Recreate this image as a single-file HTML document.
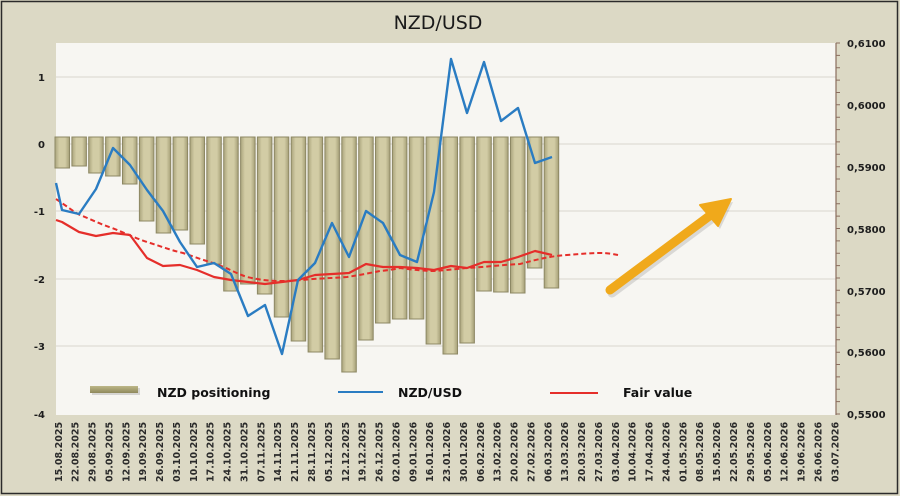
<!DOCTYPE html>
<html><head><meta charset="utf-8"><style>
html,body{margin:0;padding:0;background:#dcd9c5;}
svg{display:block;}
.ax{font-family:"DejaVu Sans","Liberation Sans",sans-serif;font-weight:bold;font-size:10px;fill:#1e1e1e;}
.dt{font-family:"DejaVu Sans","Liberation Sans",sans-serif;font-weight:bold;font-size:9.5px;fill:#2a2a2a;}
.lg{font-family:"DejaVu Sans","Liberation Sans",sans-serif;font-weight:bold;font-size:12.5px;fill:#111;}
</style></head><body>
<svg width="900" height="496" viewBox="0 0 900 496" xmlns="http://www.w3.org/2000/svg">
<defs>
<linearGradient id="barg" x1="0" y1="0" x2="1" y2="0">
<stop offset="0" stop-color="#aaa47c"/><stop offset="0.3" stop-color="#d2cca5"/><stop offset="0.7" stop-color="#d2cca5"/><stop offset="1" stop-color="#a59f77"/>
</linearGradient>
<linearGradient id="lgg" x1="0" y1="0" x2="0" y2="1">
<stop offset="0" stop-color="#bdb788"/><stop offset="1" stop-color="#8f895c"/>
</linearGradient>
</defs>
<rect x="0" y="0" width="900" height="496" fill="#dcd9c5"/>
<rect x="1.5" y="1.5" width="896" height="492" fill="none" stroke="#2b2b2b" stroke-width="1.5"/>
<text x="438" y="29" text-anchor="middle" style="font-family:'DejaVu Sans','Liberation Sans',sans-serif;font-size:19px;fill:#1a1a1a">NZD/USD</text>
<rect x="56" y="43" width="780" height="372" fill="#f7f6f2"/>
<g stroke="#dfdcd5" stroke-width="1.2">
<line x1="56" y1="77" x2="836" y2="77"/><line x1="56" y1="144" x2="836" y2="144"/><line x1="56" y1="211" x2="836" y2="211"/><line x1="56" y1="279" x2="836" y2="279"/><line x1="56" y1="346" x2="836" y2="346"/>
</g>
<g fill="url(#barg)" stroke="#8d8864" stroke-width="1">
<rect x="55.0" y="137" width="14.5" height="31"/>
<rect x="71.9" y="137" width="14.5" height="29"/>
<rect x="88.7" y="137" width="14.5" height="36"/>
<rect x="105.6" y="137" width="14.5" height="39"/>
<rect x="122.5" y="137" width="14.5" height="47"/>
<rect x="139.4" y="137" width="14.5" height="84"/>
<rect x="156.2" y="137" width="14.5" height="96"/>
<rect x="173.1" y="137" width="14.5" height="93"/>
<rect x="190.0" y="137" width="14.5" height="107"/>
<rect x="206.8" y="137" width="14.5" height="127"/>
<rect x="223.7" y="137" width="14.5" height="154"/>
<rect x="240.6" y="137" width="14.5" height="147"/>
<rect x="257.4" y="137" width="14.5" height="157"/>
<rect x="274.3" y="137" width="14.5" height="180"/>
<rect x="291.2" y="137" width="14.5" height="204"/>
<rect x="308.1" y="137" width="14.5" height="215"/>
<rect x="324.9" y="137" width="14.5" height="222"/>
<rect x="341.8" y="137" width="14.5" height="235"/>
<rect x="358.7" y="137" width="14.5" height="203"/>
<rect x="375.5" y="137" width="14.5" height="186"/>
<rect x="392.4" y="137" width="14.5" height="182"/>
<rect x="409.3" y="137" width="14.5" height="182"/>
<rect x="426.1" y="137" width="14.5" height="207"/>
<rect x="443.0" y="137" width="14.5" height="217"/>
<rect x="459.9" y="137" width="14.5" height="206"/>
<rect x="476.8" y="137" width="14.5" height="154"/>
<rect x="493.6" y="137" width="14.5" height="155"/>
<rect x="510.5" y="137" width="14.5" height="156"/>
<rect x="527.4" y="137" width="14.5" height="131"/>
<rect x="544.2" y="137" width="14.5" height="151"/>
</g>
<!-- dashed trend -->
<path d="M56,199 C68,207 74,212 80,215 C95,221 100,224 112,228 C125,233 135,238 147,242 C160,246 170,250 183,253 C195,257 203,260 213,263 C228,268 235,273 247,277 C260,280 270,281 280,281 C295,281 300,280 313,279 C328,278 335,278 347,277 C360,275 370,273 380,271 C390,270 395,269 400,268 C415,270 425,271 433,271 C450,270 455,269 467,268 C485,267 500,265 520,264 C535,260 550,256 567,255 C580,254 590,253 600,253 C608,253 613,254 618,255" fill="none" stroke="#e52e2a" stroke-width="2" stroke-dasharray="5,3"/>
<!-- fair value solid -->
<polyline points="56,220 62,222 79,232 96,236 113,233 130,235 147,258 163,266 180,265 197,270 214,277 231,280 248,282 265,284 282,282 298,280 315,275 332,274 349,273 366,264 383,267 400,267 417,268 434,270 451,266 467,268 484,262 501,262 518,257 535,251 552,255" fill="none" stroke="#e52e2a" stroke-width="2.2" stroke-linejoin="round"/>
<!-- NZD/USD -->
<polyline points="56,183 62,210 79,214 96,189 113,148 130,165 147,190 163,211 180,242 197,267 214,263 231,274 248,316 265,305 282,354 298,280 315,263 332,223 349,257 366,211 383,223 400,255 417,262 434,192 451,59 467,113 484,62 501,121 518,108 535,163 552,157" fill="none" stroke="#2a7cc2" stroke-width="2.4" stroke-linejoin="round"/>
<!-- arrow -->
<g transform="translate(2,3)" opacity="0.18">
<line x1="610" y1="290" x2="712" y2="214" stroke="#555" stroke-width="9" stroke-linecap="round"/>
<polygon points="731,199 700,205 718,226" fill="#555"/>
</g>
<line x1="610" y1="290" x2="712" y2="214" stroke="#f0a91b" stroke-width="9" stroke-linecap="round"/>
<polygon points="731,199 700,205 718,226" fill="#f0a91b" stroke="#f0a91b" stroke-width="2" stroke-linejoin="round"/>
<!-- right axis -->
<line x1="836" y1="43" x2="836" y2="415" stroke="#8a6d5e" stroke-width="1.2"/>
<path d="M836,43h4M836,55.4h4M836,67.7h4M836,80.1h4M836,92.5h4M836,104.8h4M836,117.2h4M836,129.6h4M836,141.9h4M836,154.3h4M836,166.7h4M836,179h4M836,191.4h4M836,203.8h4M836,216.1h4M836,228.5h4M836,240.9h4M836,253.2h4M836,265.6h4M836,278h4M836,290.3h4M836,302.7h4M836,315.1h4M836,327.4h4M836,339.8h4M836,352.2h4M836,364.5h4M836,376.9h4M836,389.3h4M836,401.6h4M836,414h4" stroke="#8a6d5e" stroke-width="1"/>
<g class="ax">
<text x="847" y="47">0,6100</text>
<text x="847" y="109">0,6000</text>
<text x="847" y="171">0,5900</text>
<text x="847" y="233">0,5800</text>
<text x="847" y="295">0,5700</text>
<text x="847" y="356">0,5600</text>
<text x="847" y="418">0,5500</text>
</g>
<g class="ax" text-anchor="end">
<text x="45" y="81">1</text>
<text x="45" y="148">0</text>
<text x="45" y="215">-1</text>
<text x="45" y="283">-2</text>
<text x="45" y="350">-3</text>
<text x="45" y="418">-4</text>
</g>
<!-- legend -->
<rect x="92" y="388" width="48" height="7" fill="#999" opacity="0.35"/>
<rect x="90" y="386" width="48" height="7" fill="url(#lgg)"/>
<text class="lg" x="157" y="397">NZD positioning</text>
<line x1="338" y1="392" x2="383" y2="392" stroke="#2a7cc2" stroke-width="2"/>
<text class="lg" x="398" y="397">NZD/USD</text>
<line x1="550" y1="393" x2="598" y2="393" stroke="#e52e2a" stroke-width="2"/>
<text class="lg" x="623" y="397">Fair value</text>
<!-- date labels -->
<g class="dt">
<text transform="translate(61.8,482) rotate(-90)">15.08.2025</text>
<text transform="translate(78.7,482) rotate(-90)">22.08.2025</text>
<text transform="translate(95.6,482) rotate(-90)">29.08.2025</text>
<text transform="translate(112.4,482) rotate(-90)">05.09.2025</text>
<text transform="translate(129.3,482) rotate(-90)">12.09.2025</text>
<text transform="translate(146.2,482) rotate(-90)">19.09.2025</text>
<text transform="translate(163.1,482) rotate(-90)">26.09.2025</text>
<text transform="translate(180.0,482) rotate(-90)">03.10.2025</text>
<text transform="translate(196.8,482) rotate(-90)">10.10.2025</text>
<text transform="translate(213.7,482) rotate(-90)">17.10.2025</text>
<text transform="translate(230.6,482) rotate(-90)">24.10.2025</text>
<text transform="translate(247.5,482) rotate(-90)">31.10.2025</text>
<text transform="translate(264.4,482) rotate(-90)">07.11.2025</text>
<text transform="translate(281.2,482) rotate(-90)">14.11.2025</text>
<text transform="translate(298.1,482) rotate(-90)">21.11.2025</text>
<text transform="translate(315.0,482) rotate(-90)">28.11.2025</text>
<text transform="translate(331.9,482) rotate(-90)">05.12.2025</text>
<text transform="translate(348.8,482) rotate(-90)">12.12.2025</text>
<text transform="translate(365.6,482) rotate(-90)">19.12.2025</text>
<text transform="translate(382.5,482) rotate(-90)">26.12.2025</text>
<text transform="translate(399.4,482) rotate(-90)">02.01.2026</text>
<text transform="translate(416.3,482) rotate(-90)">09.01.2026</text>
<text transform="translate(433.2,482) rotate(-90)">16.01.2026</text>
<text transform="translate(450.0,482) rotate(-90)">23.01.2026</text>
<text transform="translate(466.9,482) rotate(-90)">30.01.2026</text>
<text transform="translate(483.8,482) rotate(-90)">06.02.2026</text>
<text transform="translate(500.7,482) rotate(-90)">13.02.2026</text>
<text transform="translate(517.6,482) rotate(-90)">20.02.2026</text>
<text transform="translate(534.4,482) rotate(-90)">27.02.2026</text>
<text transform="translate(551.3,482) rotate(-90)">06.03.2026</text>
<text transform="translate(568.2,482) rotate(-90)">13.03.2026</text>
<text transform="translate(585.1,482) rotate(-90)">20.03.2026</text>
<text transform="translate(602.0,482) rotate(-90)">27.03.2026</text>
<text transform="translate(618.8,482) rotate(-90)">03.04.2026</text>
<text transform="translate(635.7,482) rotate(-90)">10.04.2026</text>
<text transform="translate(652.6,482) rotate(-90)">17.04.2026</text>
<text transform="translate(669.5,482) rotate(-90)">24.04.2026</text>
<text transform="translate(686.4,482) rotate(-90)">01.05.2026</text>
<text transform="translate(703.2,482) rotate(-90)">08.05.2026</text>
<text transform="translate(720.1,482) rotate(-90)">15.05.2026</text>
<text transform="translate(737.0,482) rotate(-90)">22.05.2026</text>
<text transform="translate(753.9,482) rotate(-90)">29.05.2026</text>
<text transform="translate(770.8,482) rotate(-90)">05.06.2026</text>
<text transform="translate(787.6,482) rotate(-90)">12.06.2026</text>
<text transform="translate(804.5,482) rotate(-90)">19.06.2026</text>
<text transform="translate(821.4,482) rotate(-90)">26.06.2026</text>
<text transform="translate(838.3,482) rotate(-90)">03.07.2026</text>
</g>
</svg>
</body></html>
